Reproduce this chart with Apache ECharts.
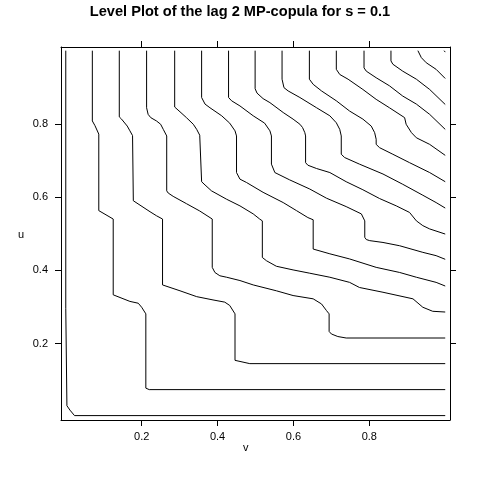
<!DOCTYPE html>
<html>
<head>
<meta charset="utf-8">
<title>Level Plot of the lag 2 MP-copula</title>
<script src="https://cdn.jsdelivr.net/npm/echarts@6/dist/echarts.min.js"></script>
<style>
  html, body { margin: 0; padding: 0; background: #ffffff; }
  #levelPlot { width: 480px; height: 480px; }
</style>
</head>
<body>
<div id="levelPlot"></div>
<script>
// contour levels (k/14), one polyline per level, points are [v, u]
const levels = [0, 0.071, 0.143, 0.214, 0.286, 0.357, 0.429, 0.5, 0.571, 0.643, 0.714, 0.786, 0.857, 0.929, 1];
const tickValues = [0.2, 0.4, 0.6, 0.8];

const c00 = [[0, 1], [0, 0.295], [0.003, 0.295], [0.003, 0.03], [0.011, 0.018], [0.023, 0.003], [1, 0.003]];
const c01 = [[0.070, 1], [0.070, 0.808], [0.077, 0.795], [0.087, 0.772], [0.087, 0.563], [0.090, 0.558],
    [0.125, 0.540], [0.125, 0.333], [0.130, 0.328], [0.169, 0.315], [0.191, 0.310], [0.200, 0.299],
    [0.211, 0.281], [0.211, 0.078], [0.220, 0.074], [1, 0.074]];
const c02 = [[0.141, 1], [0.141, 0.819], [0.147, 0.813], [0.162, 0.794], [0.169, 0.781], [0.176, 0.768],
    [0.178, 0.590], [0.182, 0.587], [0.222, 0.560], [0.239, 0.549], [0.255, 0.540], [0.255, 0.360],
    [0.259, 0.357], [0.301, 0.344], [0.345, 0.328], [0.388, 0.319], [0.419, 0.313], [0.432, 0.304],
    [0.446, 0.281], [0.446, 0.154], [0.450, 0.151], [0.485, 0.145], [1, 0.145]];
const c03 = [[0.213, 1], [0.213, 0.844], [0.217, 0.826], [0.224, 0.817], [0.239, 0.808], [0.250, 0.799],
    [0.257, 0.785], [0.266, 0.767], [0.266, 0.617], [0.270, 0.611], [0.283, 0.602], [0.318, 0.582],
    [0.353, 0.562], [0.386, 0.540], [0.386, 0.408], [0.393, 0.394], [0.406, 0.385], [0.424, 0.381],
    [0.459, 0.372], [0.494, 0.360], [0.555, 0.344], [0.599, 0.331], [0.652, 0.322], [0.674, 0.308],
    [0.687, 0.290], [0.694, 0.281], [0.694, 0.233], [0.700, 0.226], [0.717, 0.219], [0.739, 0.215], [1, 0.215]];
const c04 = [[0.287, 1], [0.287, 0.846], [0.301, 0.833], [0.318, 0.817], [0.336, 0.799], [0.345, 0.785],
    [0.353, 0.769], [0.358, 0.767], [0.358, 0.642], [0.367, 0.633], [0.384, 0.617], [0.424, 0.594],
    [0.459, 0.576], [0.494, 0.554], [0.511, 0.540], [0.518, 0.535], [0.518, 0.435], [0.529, 0.426],
    [0.555, 0.411], [0.599, 0.401], [0.643, 0.392], [0.696, 0.381], [0.748, 0.367], [0.774, 0.353],
    [0.836, 0.340], [0.915, 0.322], [0.941, 0.299], [0.967, 0.288], [1, 0.286]];
const c05 = [[0.358, 1], [0.358, 0.872], [0.367, 0.854], [0.380, 0.844], [0.411, 0.822], [0.432, 0.802],
    [0.446, 0.781], [0.450, 0.767], [0.450, 0.667], [0.459, 0.649], [0.476, 0.640], [0.520, 0.613],
    [0.573, 0.585], [0.608, 0.563], [0.638, 0.544], [0.652, 0.538], [0.652, 0.458], [0.656, 0.455],
    [0.696, 0.445], [0.748, 0.431], [0.818, 0.408], [0.880, 0.394], [0.924, 0.381], [0.976, 0.367], [1, 0.357]];
const c06 = [[0.429, 1], [0.429, 0.872], [0.437, 0.863], [0.459, 0.849], [0.494, 0.822], [0.524, 0.802],
    [0.538, 0.781], [0.542, 0.767], [0.542, 0.690], [0.551, 0.667], [0.590, 0.647], [0.643, 0.622],
    [0.687, 0.597], [0.739, 0.574], [0.779, 0.554], [0.788, 0.535], [0.788, 0.490], [0.792, 0.484],
    [0.801, 0.481], [0.836, 0.476], [0.880, 0.467], [0.941, 0.449], [0.976, 0.440], [1, 0.430]];
const c07 = [[0.499, 1], [0.499, 0.896], [0.504, 0.884], [0.520, 0.869], [0.538, 0.858], [0.573, 0.831],
    [0.599, 0.813], [0.617, 0.799], [0.624, 0.790], [0.630, 0.776], [0.632, 0.767], [0.632, 0.694],
    [0.638, 0.687], [0.661, 0.678], [0.696, 0.667], [0.739, 0.642], [0.783, 0.620], [0.827, 0.596],
    [0.871, 0.576], [0.906, 0.558], [0.924, 0.535], [0.941, 0.522], [0.959, 0.513], [1, 0.499]];
const c08 = [[0.570, 1], [0.570, 0.922], [0.575, 0.899], [0.586, 0.890], [0.617, 0.872], [0.661, 0.844],
    [0.696, 0.822], [0.713, 0.803], [0.722, 0.785], [0.726, 0.767], [0.726, 0.717], [0.735, 0.708],
    [0.774, 0.690], [0.836, 0.663], [0.888, 0.635], [0.941, 0.605], [0.976, 0.585], [1, 0.570]];
const c09 = [[0.642, 1], [0.642, 0.922], [0.652, 0.908], [0.674, 0.890], [0.713, 0.863], [0.748, 0.835],
    [0.783, 0.813], [0.805, 0.794], [0.814, 0.776], [0.818, 0.758], [0.818, 0.744], [0.827, 0.735],
    [0.862, 0.717], [0.906, 0.694], [0.959, 0.667], [1, 0.642]];
const c10 = [[0.713, 1], [0.713, 0.949], [0.722, 0.935], [0.744, 0.922], [0.783, 0.894], [0.818, 0.867],
    [0.853, 0.844], [0.893, 0.817], [0.897, 0.799], [0.911, 0.776], [0.924, 0.762], [0.959, 0.744], [1, 0.714]];
const c11 = [[0.786, 1], [0.786, 0.953], [0.792, 0.944], [0.818, 0.926], [0.853, 0.904], [0.888, 0.876],
    [0.924, 0.854], [0.959, 0.826], [1, 0.785]];
const c12 = [[0.857, 1], [0.857, 0.972], [0.862, 0.963], [0.888, 0.944], [0.924, 0.922], [0.959, 0.894], [1, 0.853]];
const c13 = [[0.928, 1], [0.937, 0.981], [0.950, 0.967], [0.976, 0.949], [1, 0.924]];
const c14 = [[0.997, 1], [1, 0.996]];

const contours = [c00, c01, c02, c03, c04, c05, c06, c07, c08, c09, c10, c11, c12, c13, c14];

const myChart = echarts.init(document.getElementById('levelPlot'), null, {renderer: 'canvas'});

const fontName = 'Liberation Sans, Arial, sans-serif';

function makeAxis(pos, showLabel, min, max) {
    return {
        type: 'value',
        position: pos,
        min: min,
        max: max,
        splitLine: {show: false},
        axisLine: {show: true, onZero: false, lineStyle: {color: '#000', width: 1}},
        axisTick: {show: true, length: 6, customValues: tickValues, lineStyle: {color: '#000', width: 1}},
        axisLabel: {
            show: showLabel,
            customValues: tickValues,
            margin: (pos === 'left') ? 13 : 11,
            fontSize: 11,
            color: '#000',
            fontFamily: fontName,
            formatter: function (value) {
                return value.toFixed(1);
            }
        }
    };
}

const option = {
    backgroundColor: '#ffffff',
    animation: false,
    title: {
        text: 'Level Plot of the lag 2 MP-copula for s = 0.1',
        left: 'center',
        top: 4,
        padding: 0,
        textStyle: {fontSize: 14.6, fontWeight: 'bold', color: '#000', fontFamily: fontName}
    },
    grid: {
        left: 61,
        right: 30,
        top: 47,
        bottom: 60,
        outerBoundsMode: 'none',
        containLabel: false
    },
    xAxis: [
        makeAxis('bottom', true, -0.0126, 1.0126),
        makeAxis('top', false, -0.0126, 1.0126)
    ],
    yAxis: [
        makeAxis('left', true, -0.009, 1.010),
        makeAxis('right', false, -0.009, 1.010)
    ],
    graphic: [
        {type: 'text', left: 243, top: 442, silent: true,
            style: {text: 'v', fontSize: 11, fontFamily: fontName, fill: '#000'}},
        {type: 'text', left: 18, top: 229, silent: true,
            style: {text: 'u', fontSize: 11, fontFamily: fontName, fill: '#000'}}
    ],
    series: contours.map(function (pts, i) {
        return {
            name: 'level ' + levels[i],
            type: 'line',
            xAxisIndex: 0,
            yAxisIndex: 0,
            data: pts,
            showSymbol: false,
            symbol: 'none',
            silent: true,
            lineStyle: {color: '#000', width: 1}
        };
    })
};

myChart.setOption(option);
window.onresize = myChart.resize;
</script>
</body>
</html>
